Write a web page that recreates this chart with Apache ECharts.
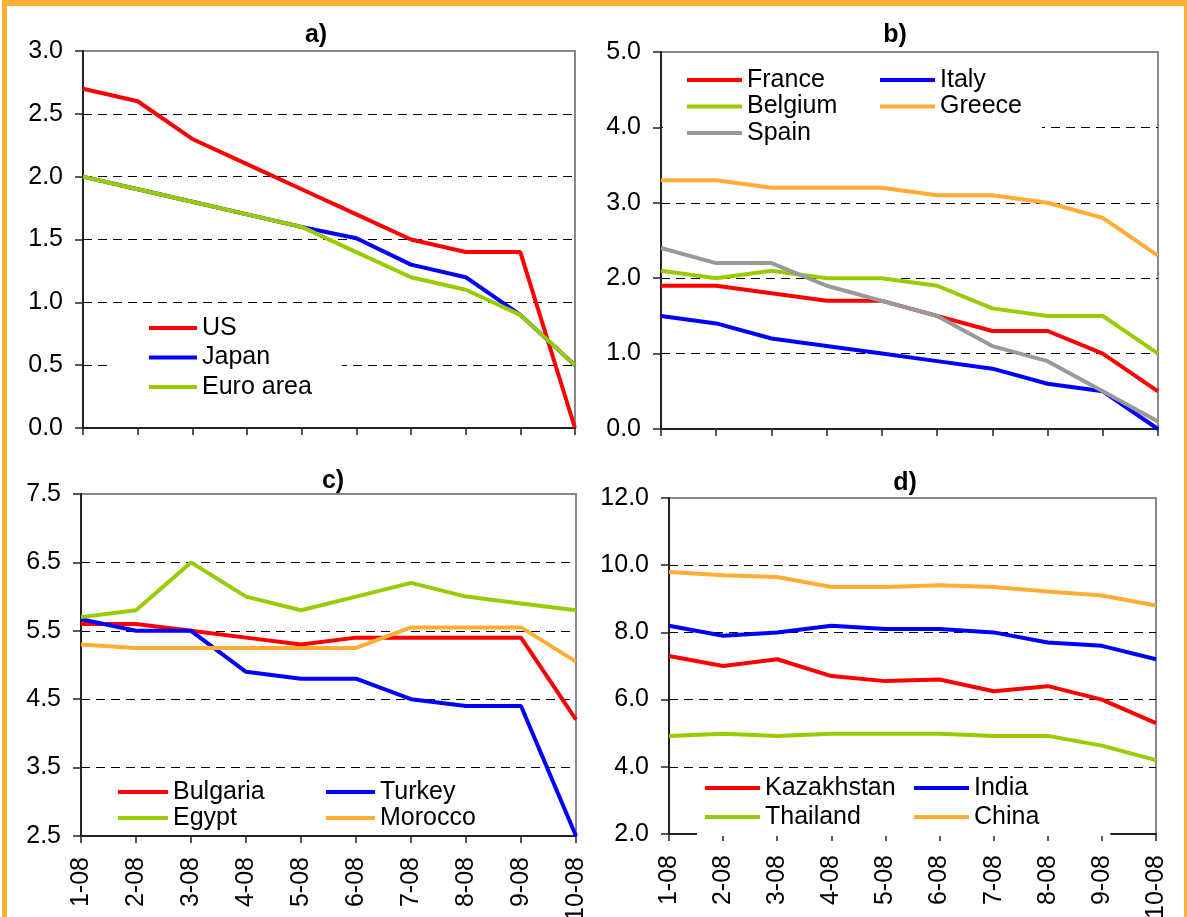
<!DOCTYPE html>
<html>
<head>
<meta charset="utf-8">
<script src="https://cdn.jsdelivr.net/npm/echarts@6/dist/echarts.min.js"></script>
<style>
  html, body { margin: 0; padding: 0; background: #fff; }
  #wrap { position: relative; width: 1187px; height: 917px; overflow: hidden; }
  #chart { position: absolute; left: 0; top: 0; width: 1187px; height: 917px; }
  #frame {
    position: absolute; left: 2px; top: 0; width: 1177px; height: 940px;
    border-top: 6px solid #FBB034; border-left: 5px solid #FBB034; border-right: 4px solid #FBB034;
    pointer-events: none;
  }
</style>
</head>
<body>
<div id="wrap">
  <div id="chart"></div>
  <div id="frame"></div>
</div>
<script>
// Months of 2008
const months = ['1-08', '2-08', '3-08', '4-08', '5-08', '6-08', '7-08', '8-08', '9-08', '10-08'];

// a) major economies
const usVals     = [2.7, 2.6, 2.3, 2.1, 1.9, 1.7, 1.5, 1.4, 1.4, 0.0];
const japanVals  = [2.0, 1.9, 1.8, 1.7, 1.6, 1.51, 1.3, 1.2, 0.9, 0.5];
const euroVals   = [2.0, 1.9, 1.8, 1.7, 1.6, 1.4, 1.2, 1.1, 0.9, 0.5];

// b) euro area members
const franceVals  = [1.9, 1.9, 1.8, 1.7, 1.7, 1.5, 1.3, 1.3, 1.0, 0.5];
const italyVals   = [1.5, 1.4, 1.2, 1.1, 1.0, 0.9, 0.8, 0.6, 0.5, 0.0];
const belgiumVals = [2.1, 2.0, 2.1, 2.0, 2.0, 1.9, 1.6, 1.5, 1.5, 1.0];
const greeceVals  = [3.3, 3.3, 3.2, 3.2, 3.2, 3.1, 3.1, 3.0, 2.8, 2.3];
const spainVals   = [2.4, 2.2, 2.2, 1.9, 1.7, 1.5, 1.1, 0.9, 0.5, 0.1];

// c) emerging Europe and North Africa
const bulgariaVals = [5.6, 5.6, 5.5, 5.4, 5.3, 5.4, 5.4, 5.4, 5.4, 4.2];
const turkeyVals   = [5.67, 5.5, 5.5, 4.9, 4.8, 4.8, 4.5, 4.4, 4.4, 2.5];
const egyptVals    = [5.7, 5.8, 6.5, 6.0, 5.8, 6.0, 6.2, 6.0, 5.9, 5.8];
const moroccoVals  = [5.3, 5.25, 5.25, 5.25, 5.25, 5.25, 5.55, 5.55, 5.55, 5.05];

// d) Asia
const kazakhstanVals = [7.3, 7.0, 7.2, 6.7, 6.55, 6.6, 6.25, 6.4, 6.0, 5.3];
const indiaVals      = [8.2, 7.9, 8.0, 8.2, 8.1, 8.1, 8.0, 7.7, 7.6, 7.2];
const thailandVals   = [4.92, 4.98, 4.92, 4.98, 4.98, 4.98, 4.92, 4.92, 4.63, 4.2];
const chinaVals      = [9.8, 9.7, 9.65, 9.35, 9.35, 9.4, 9.35, 9.22, 9.1, 8.8];

// Panel titles and y-axis ranges
const panelTitles = ['a)', 'b)', 'c)', 'd)'];
const yRanges = [
  { min: 0, max: 3, interval: 0.5 },
  { min: 0, max: 5, interval: 1 },
  { min: 2.5, max: 7.5, interval: 1 },
  { min: 2, max: 12, interval: 2 }
];

const RED = '#FF0000', BLUE = '#0000FF', GREEN = '#99CC00', ORANGE = '#FFAD33', GRAY = '#999999';
const FONT = '"Liberation Sans", Arial, sans-serif';

const grids = [
  { left: 83,  top: 51,  width: 492, height: 377 },
  { left: 661, top: 52,  width: 497, height: 377 },
  { left: 81,  top: 494, width: 495, height: 342 },
  { left: 669, top: 498, width: 487, height: 336 }
];

const xAxes = grids.map((g, i) => ({
  type: 'category',
  gridIndex: i,
  data: months,
  boundaryGap: false,
  axisLine: { show: true, onZero: false, lineStyle: { color: '#222', width: 2 } },
  axisTick: { show: true, length: 7, interval: 0, lineStyle: { color: '#222', width: 1.5 } },
  axisLabel: {
    show: i >= 2, rotate: 90, interval: 0, margin: 21,
    fontSize: 25, fontFamily: FONT, color: '#000'
  },
  splitLine: { show: false }
}));

const yAxes = grids.map((g, i) => ({
  type: 'value',
  gridIndex: i,
  min: yRanges[i].min,
  max: yRanges[i].max,
  interval: yRanges[i].interval,
  axisLine: { show: true, lineStyle: { color: '#222', width: 2 } },
  axisTick: { show: true, length: 8, lineStyle: { color: '#222', width: 1.5 } },
  axisLabel: {
    margin: 20, fontSize: 25, fontFamily: FONT, color: '#000',
    formatter: v => v.toFixed(1)
  },
  splitLine: {
    show: true, showMinLine: false, showMaxLine: false,
    lineStyle: { color: '#000', width: 1, type: [9, 6] }
  }
}));

function line(name, data, color, idx) {
  return {
    name, type: 'line', data, color,
    xAxisIndex: idx, yAxisIndex: idx,
    symbol: 'none', showSymbol: false,
    lineStyle: { width: 4, color },
    emphasis: { disabled: true },
    z: 3
  };
}

const series = [
  line('US', usVals, RED, 0),
  line('Japan', japanVals, BLUE, 0),
  line('Euro area', euroVals, GREEN, 0),
  line('France', franceVals, RED, 1),
  line('Italy', italyVals, BLUE, 1),
  line('Belgium', belgiumVals, GREEN, 1),
  line('Greece', greeceVals, ORANGE, 1),
  line('Spain', spainVals, GRAY, 1),
  line('Bulgaria', bulgariaVals, RED, 2),
  line('Turkey', turkeyVals, BLUE, 2),
  line('Egypt', egyptVals, GREEN, 2),
  line('Morocco', moroccoVals, ORANGE, 2),
  line('Kazakhstan', kazakhstanVals, RED, 3),
  line('India', indiaVals, BLUE, 3),
  line('Thailand', thailandVals, GREEN, 3),
  line('China', chinaVals, ORANGE, 3)
];

function legend(names, left, top, padding, itemWidth, itemGap) {
  return {
    data: names, orient: 'vertical', left, top, padding,
    itemWidth, itemHeight: 4, itemGap, icon: 'rect',
    backgroundColor: '#fff', selectedMode: false,
    textStyle: { fontSize: 25, fontFamily: FONT, color: '#000', lineHeight: 26 }
  };
}

const legends = [
  legend(['US', 'Japan', 'Euro area'], 107, 310, [5, 30, 3, 42], 48, 3.5),
  legend(['France', 'Belgium', 'Spain'], 663, 62, [5, 50, 4, 24], 55, 0.5),
  legend(['Italy', 'Greece'], 874, 62, [5, 20, 14, 6], 55, 0.5),
  legend(['Bulgaria', 'Egypt'], 110, 775, [4, 8, 4, 8], 50, 0),
  legend(['Turkey', 'Morocco'], 318, 775, [4, 8, 4, 8], 49, 0),
  legend(['Kazakhstan', 'Thailand'], 697, 772, [3, 24, 6, 8], 55, 3),
  legend(['India', 'China'], 905, 772, [3, 71, 6, 9], 55, 3)
];

const titlePos = [[316, 35], [895, 35], [333, 481], [905, 483]];
const titles = panelTitles.map((t, i) => ({
  type: 'text', x: titlePos[i][0], y: titlePos[i][1], z: 10,
  style: {
    text: t, fill: '#000', align: 'center', verticalAlign: 'middle',
    font: 'bold 25px ' + FONT
  }
}));

const chart = echarts.init(document.getElementById('chart'), null, { renderer: 'canvas' });
chart.setOption({
  animation: false,
  backgroundColor: '#fff',
  grid: grids.map(g => Object.assign({
    show: true, borderColor: '#888', borderWidth: 2, backgroundColor: 'transparent',
    containLabel: false, outerBoundsMode: 'none'
  }, g)),
  xAxis: xAxes,
  yAxis: yAxes,
  legend: legends,
  graphic: titles,
  series
});
</script>
</body>
</html>
